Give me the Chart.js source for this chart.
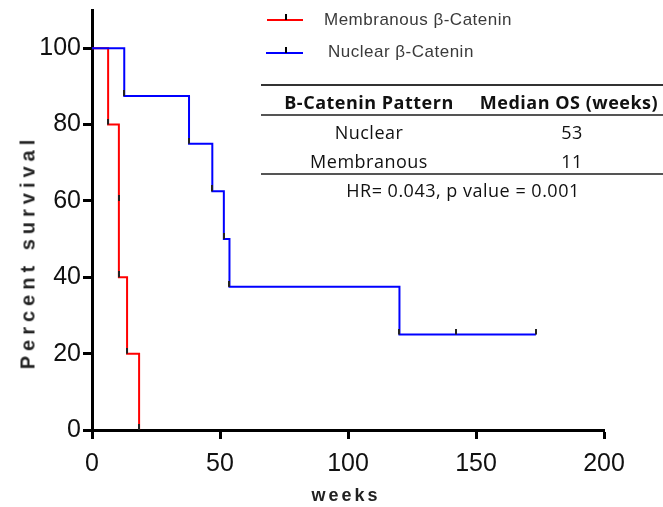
<!DOCTYPE html>
<html>
<head>
<meta charset="utf-8">
<script src="https://cdn.jsdelivr.net/npm/chart.js@4"></script>
<style>
  body { margin: 0; background: #fff; }
  #wrap { position: relative; width: 663px; height: 507px; }
  .abs { position: absolute; white-space: nowrap; }
  .leg { font-family: 'Liberation Sans', Arial, sans-serif; font-size: 17px; letter-spacing: 0.5px; color: #3a3a3a; }
  .tbl { font-family: 'Open Sans', Lato, sans-serif; font-size: 18px; letter-spacing: 0.5px; color: #111; transform: translate(-50%, -50%); }
  .rule { position: absolute; left: 261px; width: 402px; height: 2px; background: #333; }
  .ax { font-family: 'Liberation Sans', Arial, sans-serif; font-weight: bold; color: #222; }
</style>
</head>
<body>
<div id="wrap">
  <canvas id="kmChart"></canvas>

  <!-- legend -->
  <div class="abs" style="left:267px; top:19px; width:36px; height:2px; background:#ff0000;"></div>
  <div class="abs" style="left:285px; top:14px; width:2px; height:6px; background:#000;"></div>
  <div class="abs leg" style="left:324px; top:10px;">Membranous β-Catenin</div>
  <div class="abs" style="left:266px; top:52px; width:37px; height:2px; background:#0000ff;"></div>
  <div class="abs" style="left:285px; top:47px; width:2px; height:6px; background:#000;"></div>
  <div class="abs leg" style="left:328px; top:42px;">Nuclear β-Catenin</div>

  <!-- median OS table -->
  <div class="rule" style="top:84px;"></div>
  <div class="abs tbl" style="left:369px; top:102px; font-weight:bold;">B-Catenin Pattern</div>
  <div class="abs tbl" style="left:569px; top:102px; font-weight:bold;">Median OS (weeks)</div>
  <div class="rule" style="top:114px; background:#555;"></div>
  <div class="abs tbl" style="left:369px; top:132px;">Nuclear</div>
  <div class="abs tbl" style="left:572px; top:132px;">53</div>
  <div class="abs tbl" style="left:369px; top:161px;">Membranous</div>
  <div class="abs tbl" style="left:572px; top:161px;">11</div>
  <div class="rule" style="top:173px; background:#555;"></div>
  <div class="abs tbl" style="left:463px; top:190px;">HR= 0.043, p value = 0.001</div>

  <!-- axis titles -->
  <div class="abs ax" style="left:28px; top:252px; font-size:20px; letter-spacing:5px; transform: translate(-50%, -50%) rotate(-90deg);">Percent survival</div>
  <div class="abs ax" style="left:346px; top:495px; font-size:18px; letter-spacing:3px; transform: translate(-50%, -50%);">weeks</div>
</div>

<script>
// Kaplan-Meier steps (weeks, percent survival)
const membranousWeeks = [0, 6.3, 10.5, 10.5, 13.7, 18.4];
const membranousSurv  = [100, 80, 60, 40, 20, 0];

const nuclearWeeks = [0, 12.6, 37.9, 47, 51.5, 53.7, 120.1, 142.3, 173.4];
const nuclearSurv  = [100, 87.5, 75, 62.5, 50, 37.5, 25, 25, 25];

const xTicks = [0, 50, 100, 150, 200];
const yTicks = [0, 20, 40, 60, 80, 100];

const toPoints = (xs, ys) => xs.map((x, i) => ({ x: x, y: ys[i] }));

// small upward tick used by Prism as the point symbol
const tickMark = document.createElement('canvas');
tickMark.width = 2;
tickMark.height = 12;
const tctx = tickMark.getContext('2d');
tctx.fillStyle = '#222';
tctx.fillRect(0, 0, 2, 6);

const markStyle = ctx => ctx.dataIndex === 0 ? false : tickMark;

const tickFont = { family: "'Liberation Sans', Arial, sans-serif", size: 25 };

// keep the label overhang from pushing the plot area around
const noOverhang = scale => {
    scale.paddingTop = 0;
    scale.paddingBottom = 0;
    scale.paddingLeft = 0;
    scale.paddingRight = 0;
};

const ctx = document.getElementById('kmChart');
new Chart(ctx, {
    type: 'line',
    data: {
        datasets: [
            {
                label: 'Membranous β-Catenin',
                data: toPoints(membranousWeeks, membranousSurv),
                borderColor: '#ff0000',
                borderWidth: 2,
                stepped: 'before',
                fill: false,
                pointStyle: markStyle,
                order: 1
            },
            {
                label: 'Nuclear β-Catenin',
                data: toPoints(nuclearWeeks, nuclearSurv),
                borderColor: '#0000ff',
                borderWidth: 2,
                stepped: 'before',
                fill: false,
                pointStyle: markStyle,
                order: 0
            }
        ]
    },
    options: {
        responsive: true,
        maintainAspectRatio: false,
        animation: false,
        layout: { padding: { top: 10, right: 59, left: 0, bottom: 0 } },
        plugins: {
            legend: { display: false },
            tooltip: { enabled: false }
        },
        scales: {
            x: {
                type: 'linear',
                min: 0,
                max: 200,
                afterFit: scale => { scale.height = 77; noOverhang(scale); },
                afterBuildTicks: scale => { scale.ticks = xTicks.map(v => ({ value: v })); },
                border: { display: true, color: '#000', width: 3 },
                grid: { drawOnChartArea: false, drawTicks: true, tickLength: 9, tickWidth: 3, tickColor: '#000' },
                ticks: { color: '#111', padding: 10, font: tickFont }
            },
            y: {
                type: 'linear',
                min: 0,
                max: 110,
                afterFit: scale => { scale.width = 92; noOverhang(scale); },
                afterBuildTicks: scale => { scale.ticks = yTicks.map(v => ({ value: v })); },
                border: { display: true, color: '#000', width: 3 },
                grid: { drawOnChartArea: false, drawTicks: true, tickLength: 9, tickWidth: 3, tickColor: '#000' },
                ticks: { color: '#111', padding: 2, font: tickFont }
            }
        }
    }
});
</script>
</body>
</html>
